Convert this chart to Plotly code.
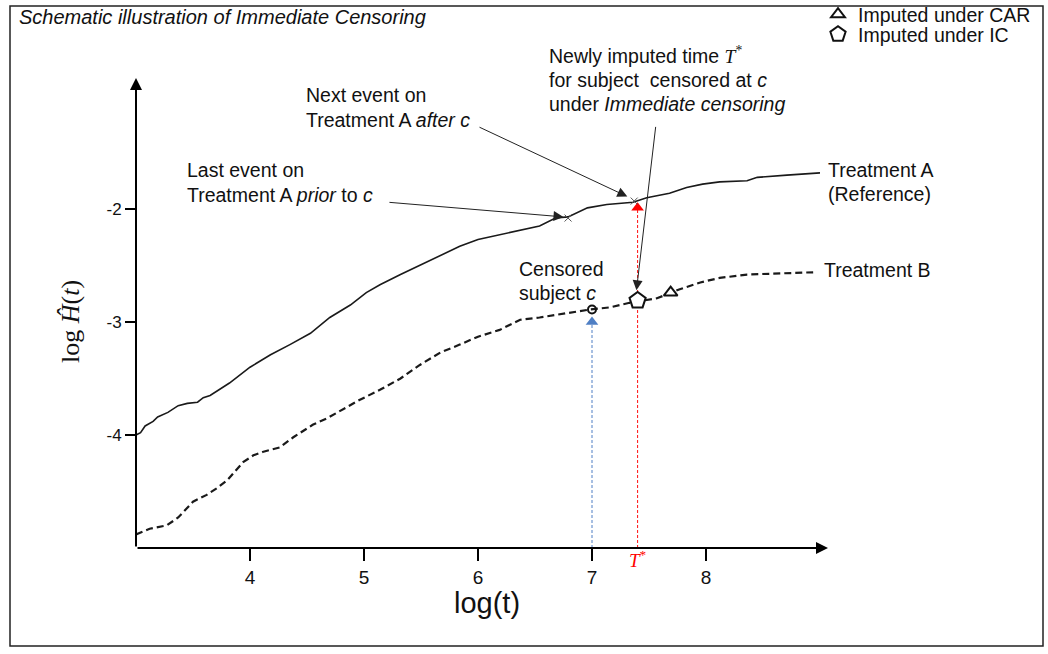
import plotly.graph_objects as go

# ---------------- data ----------------
tA_x = [3.00, 3.04, 3.08, 3.15, 3.19, 3.28, 3.37, 3.45, 3.54, 3.59, 3.65, 3.71, 3.82, 4.00, 4.18, 4.35,
        4.53, 4.70, 4.88, 5.02, 5.14, 5.32, 5.49, 5.67, 5.84, 6.00, 6.19, 6.37, 6.54, 6.68, 6.79, 6.96,
        7.13, 7.36, 7.48, 7.68, 7.83, 7.97, 8.12, 8.36, 8.45, 8.71, 9.00]
tA_y = [-4.00, -3.98, -3.92, -3.88, -3.84, -3.80, -3.74, -3.72, -3.71, -3.67, -3.65, -3.61, -3.54, -3.40,
        -3.29, -3.20, -3.10, -2.96, -2.85, -2.74, -2.67, -2.58, -2.50, -2.41, -2.33, -2.27, -2.23, -2.19,
        -2.15, -2.08, -2.07, -1.99, -1.96, -1.94, -1.90, -1.86, -1.81, -1.78, -1.76, -1.75, -1.72, -1.70, -1.68]

tB_x = [3.00, 3.12, 3.27, 3.37, 3.50, 3.62, 3.71, 3.80, 3.94, 4.03, 4.11, 4.26, 4.38, 4.55, 4.68, 4.85,
        4.96, 5.14, 5.32, 5.49, 5.67, 5.84, 6.00, 6.19, 6.37, 6.54, 6.78, 6.98, 7.16, 7.33, 7.57, 7.77,
        7.95, 8.12, 8.36, 8.59, 8.94]
tB_y = [-4.88, -4.83, -4.80, -4.73, -4.59, -4.53, -4.47, -4.40, -4.24, -4.18, -4.15, -4.11, -4.02, -3.91,
        -3.85, -3.75, -3.69, -3.60, -3.50, -3.38, -3.27, -3.20, -3.13, -3.07, -2.98, -2.96, -2.92, -2.89,
        -2.87, -2.83, -2.79, -2.71, -2.65, -2.61, -2.58, -2.57, -2.56]

censor_x = [7.00]
censor_y = [-2.89]
ic_x = [7.40]          # imputed under IC (T*)
ic_y = [-2.81]
car_x = [7.69]         # imputed under CAR
car_y = [-2.74]
event_x = [6.79, 7.37]  # last event prior to c, next event after c (Treatment A)
event_y = [-2.08, -1.93]
tstar_hit_y = [-1.99]
censor_hit_y = [-3.00]
axis_floor = -5.0

x_ticks = [4, 5, 6, 7, 8]
x_ticktext = ["4", "5", "6", "7", "8"]
y_ticks = [-2, -3, -4]
y_ticktext = ["-2", "-3", "-4"]

W, H = 1048, 654
SANS = "Liberation Sans, Arial, sans-serif"
SERIF = "Liberation Serif, Times New Roman, serif"
FS = 19.5


def PX(p):
    return p / W


def PY(p):
    return 1 - p / H


fig = go.Figure()

fig.add_trace(go.Scatter(x=tA_x, y=tA_y, mode="lines", line=dict(color="#1a1a1a", width=1.6),
                         showlegend=False, hoverinfo="skip"))
fig.add_trace(go.Scatter(x=tB_x, y=tB_y, mode="lines", line=dict(color="#1a1a1a", width=2.2, dash="7px,4px"),
                         showlegend=False, hoverinfo="skip"))

# vertical dashed guides
fig.add_trace(go.Scatter(x=[censor_x[0], censor_x[0]], y=[axis_floor, censor_hit_y[0]], mode="lines",
                         line=dict(color="#4f7fc4", width=1, dash="3px,2px"), showlegend=False, hoverinfo="skip"))
fig.add_trace(go.Scatter(x=[ic_x[0], ic_x[0]], y=[axis_floor, tstar_hit_y[0]], mode="lines",
                         line=dict(color="#ff1010", width=1, dash="3px,2px"), showlegend=False, hoverinfo="skip"))
fig.add_trace(go.Scatter(x=censor_x, y=censor_hit_y, mode="markers",
                         marker=dict(symbol="triangle-up", size=11, color="#4f7fc4"), showlegend=False, hoverinfo="skip"))
fig.add_trace(go.Scatter(x=ic_x, y=tstar_hit_y, mode="markers",
                         marker=dict(symbol="triangle-up", size=11, color="#ff0000"), showlegend=False, hoverinfo="skip"))

# event crosses
fig.add_trace(go.Scatter(x=event_x, y=event_y, mode="markers",
                         marker=dict(symbol="x-thin-open", size=7, color="#555555", line=dict(width=1, color="#555555")),
                         showlegend=False, hoverinfo="skip"))

# censored subject
fig.add_trace(go.Scatter(x=censor_x, y=censor_y, mode="markers",
                         marker=dict(symbol="circle-open", size=8, color="#111111", line=dict(width=2, color="#111111")),
                         showlegend=False, hoverinfo="skip"))

# imputed points (legend entries)
fig.add_trace(go.Scatter(x=car_x, y=car_y, mode="markers", name="Imputed under CAR", legend="legend",
                         marker=dict(symbol="triangle-up", size=12, color="white", line=dict(width=2, color="#111111")),
                         hoverinfo="skip"))
fig.add_trace(go.Scatter(x=ic_x, y=ic_y, mode="markers", name="Imputed under IC", legend="legend2",
                         marker=dict(symbol="pentagon", size=17, color="white", line=dict(width=2, color="#111111")),
                         hoverinfo="skip"))

ann = []
# axes with arrowheads
ann.append(dict(x=9.07, y=axis_floor, ax=3.0, ay=axis_floor, xref="x", yref="y", axref="x", ayref="y",
                text="", showarrow=True, arrowhead=2, arrowsize=1.2, arrowwidth=2, arrowcolor="black"))
ann.append(dict(x=3.0, y=-0.84, ax=3.0, ay=axis_floor, xref="x", yref="y", axref="x", ayref="y",
                text="", showarrow=True, arrowhead=2, arrowsize=1.2, arrowwidth=2, arrowcolor="black"))

# pointer arrows
ann.append(dict(x=6.75, y=-2.07, ax=5.21, ay=-1.94, xref="x", yref="y", axref="x", ayref="y",
                text="", showarrow=True, arrowhead=2, arrowsize=2, arrowwidth=1, arrowcolor="#222222"))
ann.append(dict(x=7.31, y=-1.89, ax=6.00, ay=-1.27, xref="x", yref="y", axref="x", ayref="y",
                text="", showarrow=True, arrowhead=2, arrowsize=2, arrowwidth=1, arrowcolor="#222222"))
ann.append(dict(x=7.39, y=-2.72, ax=7.56, ay=-1.26, xref="x", yref="y", axref="x", ayref="y",
                text="", showarrow=True, arrowhead=2, arrowsize=2, arrowwidth=1, arrowcolor="#222222"))


def text(xp, yp, s, size=FS, anchor="left", family=SANS, color="#111111", angle=0):
    ann.append(dict(x=PX(xp), y=PY(yp), xref="paper", yref="paper", text=s, showarrow=False,
                    xanchor=anchor, yanchor="middle", textangle=angle,
                    font=dict(family=family, size=size, color=color)))


TSTAR = "<span style='font-family:Liberation Serif'><i>T</i><sup>*</sup></span>"

text(17, 17, "<i>Schematic illustration of Immediate Censoring</i>", size=20)
text(304, 95, "Next event on")
text(304, 120, "Treatment A <i>after c</i>")
text(185, 170, "Last event on")
text(185, 195, "Treatment A <i>prior</i> to <i>c</i>")
text(547, 55, "Newly imputed time " + TSTAR)
text(547, 80, "for subject  censored at <i>c</i>")
text(547, 104, "under <i>Immediate censoring</i>")
text(517, 269, "Censored")
text(517, 293, "subject <i>c</i>")
text(826, 170, "Treatment A")
text(826, 194, "(Reference)")
text(822, 270, "Treatment B")
text(638, 559, "<i>T</i><sup>*</sup>", size=19, anchor="center", family=SERIF, color="#ff0000")
text(487, 603, "log(t)", size=29, anchor="center")
text(70, 322, "log <i>Ĥ</i>(<i>t</i>)", size=26, anchor="center", family=SERIF, angle=-90)

LEG = dict(xanchor="left", yanchor="top", bgcolor="rgba(0,0,0,0)",
           font=dict(family=SANS, size=19.5, color="#111111"), itemwidth=30)

fig.update_layout(
    width=W, height=H, autosize=False,
    margin=dict(l=0, r=0, t=0, b=0, autoexpand=False),
    paper_bgcolor="white", plot_bgcolor="white",
    font=dict(family=SANS, color="#111111"),
    annotations=ann,
    shapes=[dict(type="rect", xref="paper", yref="paper", x0=PX(10), x1=PX(1043), y0=PY(646), y1=PY(6),
                 line=dict(color="#222222", width=1.5))],
    legend=dict(x=PX(818), y=PY(-5), **LEG),
    legend2=dict(x=PX(818), y=PY(15), **LEG),
    xaxis=dict(domain=[PX(136), PX(136 + 6.2 * 114)], range=[3, 9.2], showgrid=False, zeroline=False,
               showline=False, ticks="outside", ticklen=12, tickwidth=2, tickcolor="black",
               tickvals=x_ticks, ticktext=x_ticktext, tickfont=dict(size=19, family=SANS)),
    yaxis=dict(domain=[PY(548), PY(548 - 4.3 * 113)], range=[-5.0, -0.7], showgrid=False, zeroline=False,
               showline=False, ticks="outside", ticklen=10, tickwidth=2, tickcolor="black",
               tickvals=y_ticks, ticktext=y_ticktext, tickfont=dict(size=17, family=SANS)),
)

fig.write_html("out.html")
